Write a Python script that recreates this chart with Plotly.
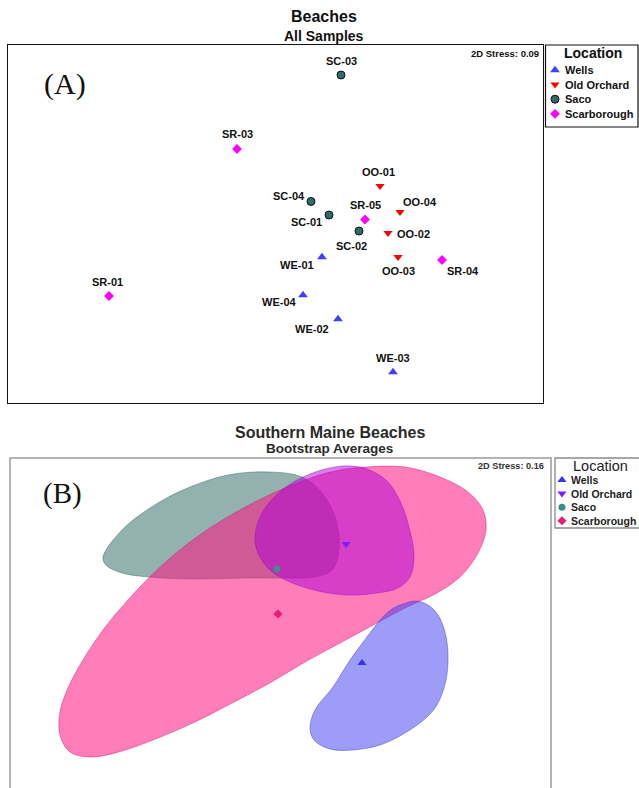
import plotly.graph_objects as go

W, H = 639, 788
SANS = "Liberation Sans, Arial, sans-serif"
SERIF = "Liberation Serif, Times New Roman, serif"

# ---------------- Panel A: NMDS ordination of individual samples ----------------
wells_ids = ["WE-01", "WE-02", "WE-03", "WE-04"]
wells_x = [0.465, 0.625, 1.175, 0.275]
wells_y = [-0.33, -0.95, -1.48, -0.71]

oo_ids = ["OO-01", "OO-02", "OO-03", "OO-04"]
oo_x = [1.045, 1.125, 1.225, 1.245]
oo_y = [0.38, -0.09, -0.33, 0.12]

saco_ids = ["SC-01", "SC-02", "SC-03", "SC-04"]
saco_x = [0.535, 0.835, 0.655, 0.355]
saco_y = [0.09, -0.07, 1.49, 0.225]

scar_ids = ["SR-01", "SR-03", "SR-04", "SR-05"]
scar_x = [-1.665, -0.385, 1.665, 0.895]
scar_y = [-0.72, 0.75, -0.36, 0.045]

stress_a = 0.09

# ---------------- Panel B: bootstrap averages with bootstrap regions ----------------
locations = ["Wells", "Old Orchard", "Saco", "Scarborough"]
avg_x = [0.82, 0.66, -0.03, -0.02]
avg_y = [-0.53, 0.66, 0.41, -0.04]

saco_region_x = [-1.77, -1.58, -1.30, -0.97, -0.52, -0.11, 0.22, 0.42, 0.56, 0.59,
                 0.52, 0.34, 0.00, -0.35, -0.80, -1.17, -1.58, -1.74]
saco_region_y = [0.53, 0.80, 1.02, 1.20, 1.35, 1.38, 1.33, 1.17, 0.90, 0.60,
                 0.40, 0.33, 0.32, 0.32, 0.31, 0.32, 0.37, 0.45]

scar_region_x = [0.87, 1.25, 1.60, 1.88, 2.03, 2.06, 1.98, 1.80, 1.55, 1.27, 0.95,
                 0.60, 0.25, -0.12, -0.48, -0.85, -1.22, -1.58, -1.88, -2.10, -2.20,
                 -2.20, -2.12, -1.97, -1.77, -1.52, -1.23, -0.90, -0.54, -0.15, 0.25, 0.55]
scar_region_y = [1.43, 1.43, 1.33, 1.18, 1.00, 0.80, 0.57, 0.33, 0.16, 0.03, -0.14,
                 -0.33, -0.52, -0.74, -0.93, -1.12, -1.28, -1.41, -1.47, -1.42, -1.25,
                 -1.02, -0.78, -0.50, -0.20, 0.10, 0.40, 0.68, 0.92, 1.13, 1.30, 1.39]

oo_region_x = [0.30, 0.63, 0.87, 1.07, 1.20, 1.29, 1.34, 1.30, 1.18, 0.97, 0.68,
               0.38, 0.10, -0.10, -0.22, -0.25, -0.18, 0.02]
oo_region_y = [1.36, 1.44, 1.41, 1.29, 1.09, 0.83, 0.54, 0.33, 0.22, 0.17, 0.15,
               0.19, 0.28, 0.40, 0.57, 0.73, 0.97, 1.20]

wells_region_x = [1.23, 1.36, 1.48, 1.58, 1.65, 1.68, 1.66, 1.58, 1.47, 1.25, 1.00,
                  0.73, 0.50, 0.34, 0.30, 0.35, 0.53, 0.70, 0.87, 1.01, 1.12]
wells_region_y = [0.06, 0.09, 0.05, -0.05, -0.22, -0.45, -0.70, -0.93, -1.07, -1.23, -1.35,
                  -1.40, -1.39, -1.30, -1.18, -1.00, -0.77, -0.50, -0.27, -0.09, 0.01]

stress_b = 0.16

# ---------------- styling ----------------
A_STYLE = {
    "Wells": dict(symbol="triangle-up", size=8.5, color="#3f3fff", line=dict(width=0)),
    "Old Orchard": dict(symbol="triangle-down", size=8, color="#ff0000", line=dict(width=0)),
    "Saco": dict(symbol="circle", size=8, color="#2f6b6b", line=dict(width=1, color="#111111")),
    "Scarborough": dict(symbol="diamond", size=7.5, color="#ff00ff", line=dict(width=0)),
}
B_STYLE = {
    "Wells": dict(symbol="triangle-up", size=8, color="#3535ee", line=dict(width=0)),
    "Old Orchard": dict(symbol="triangle-down", size=8, color="#7a1fff", line=dict(width=0)),
    "Saco": dict(symbol="circle", size=7, color="#3d8c8a", line=dict(width=0)),
    "Scarborough": dict(symbol="diamond", size=7, color="#ea1a78", line=dict(width=0)),
}

# label offsets from each sample point (pixels, right / down)
label_offset = {
    "SC-03": (0, -14), "SR-03": (0, -15), "OO-01": (-2, -14), "SC-04": (-22, -5),
    "OO-04": (20, -10), "SC-01": (-23, 7), "SR-05": (0, -14), "SC-02": (-8, 15),
    "OO-02": (25, 1), "WE-01": (-25, 8), "OO-03": (0, 14), "SR-04": (21, 11),
    "SR-01": (-2, -14), "WE-04": (-24, 7), "WE-02": (-26, 10), "WE-03": (0, -14),
}


def px(x):
    return x / W


def py(y):
    return 1 - y / H


fig = go.Figure()

# ---- panel A markers + labels ----
groups_a = [
    ("Wells", wells_ids, wells_x, wells_y),
    ("Old Orchard", oo_ids, oo_x, oo_y),
    ("Saco", saco_ids, saco_x, saco_y),
    ("Scarborough", scar_ids, scar_x, scar_y),
]
annotations = []
for name, ids, xs, ys in groups_a:
    fig.add_trace(go.Scatter(x=xs, y=ys, mode="markers", name=name,
                             marker=A_STYLE[name], xaxis="x", yaxis="y",
                             hoverinfo="text", text=ids))
    for sid, xv, yv in zip(ids, xs, ys):
        dx, dy = label_offset[sid]
        annotations.append(dict(x=xv, y=yv, xref="x", yref="y", text=sid,
                                showarrow=False, xshift=dx, yshift=-dy,
                                font=dict(family=SANS, size=11, color="#111111", weight="bold")))

# ---- panel B regions (Saco under Scarborough, then Old Orchard and Wells) ----
regions = [
    ("Saco", saco_region_x, saco_region_y, "rgba(40,100,95,0.5)", "rgba(40,100,95,0.55)"),
    ("Scarborough", scar_region_x, scar_region_y, "rgba(255,20,130,0.55)", "rgba(215,20,120,0.6)"),
    ("Old Orchard", oo_region_x, oo_region_y, "rgba(175,0,215,0.5)", "rgba(150,0,190,0.5)"),
    ("Wells", wells_region_x, wells_region_y, "rgba(60,60,240,0.5)", "rgba(50,50,200,0.55)"),
]
for name, rx, ry, fillc, linec in regions:
    fig.add_trace(go.Scatter(x=rx + rx[:1], y=ry + ry[:1], mode="lines",
                             line=dict(shape="spline", smoothing=1.0, color=linec, width=0.8),
                             fill="toself", fillcolor=fillc, xaxis="x2", yaxis="y2",
                             hoverinfo="skip"))

for i, name in enumerate(locations):
    fig.add_trace(go.Scatter(x=[avg_x[i]], y=[avg_y[i]], mode="markers", name=name,
                             marker=B_STYLE[name], xaxis="x2", yaxis="y2"))

# ---- legend keys (drawn on a full-page pixel overlay) ----
leg_a_rows = [70 + 14.6 * i for i in range(len(locations))]
leg_b_rows = [480 + 13.6 * i for i in range(len(locations))]
for i, name in enumerate(locations):
    fig.add_trace(go.Scatter(x=[555], y=[leg_a_rows[i]], mode="markers",
                             marker=A_STYLE[name], xaxis="x3", yaxis="y3", hoverinfo="skip"))
    annotations.append(dict(x=563, y=leg_a_rows[i], xref="x3", yref="y3", text=name,
                            showarrow=False, xanchor="left", yanchor="middle",
                            font=dict(family=SANS, size=11, color="#111111", weight="bold")))
    fig.add_trace(go.Scatter(x=[562], y=[leg_b_rows[i]], mode="markers",
                             marker=B_STYLE[name], xaxis="x3", yaxis="y3", hoverinfo="skip"))
    annotations.append(dict(x=569, y=leg_b_rows[i], xref="x3", yref="y3", text=name,
                            showarrow=False, xanchor="left", yanchor="middle",
                            font=dict(family=SANS, size=10.5, color="#222222", weight="bold")))

# ---- titles and text ----
def note(x, y, text, size, family=SANS, weight="bold", color="#111111", xanchor="center"):
    annotations.append(dict(x=px(x), y=py(y), xref="paper", yref="paper", text=text,
                            showarrow=False, xanchor=xanchor, yanchor="middle",
                            font=dict(family=family, size=size, color=color, weight=weight)))


note(324, 17, "Beaches", 16)
note(324, 36, "All Samples", 14)
note(65, 84, "(A)", 30, family=SERIF, weight="normal")
note(541, 53, f"2D Stress: {stress_a:.2f}", 9.5, xanchor="right")
note(593, 53, "Location", 14)

note(329.5, 432, "Southern Maine Beaches", 16, color="#2a2a2a")
note(329, 449, "Bootstrap Averages", 13.5, color="#2a2a2a")
note(63, 493, "(B)", 29, family=SERIF, weight="normal")
note(546, 466, f"2D Stress: {stress_b:.2f}", 9.2, xanchor="right", color="#333333")
note(600, 466, "Location", 14.5, weight="normal", color="#222222")

# ---- frames ----
shapes = [
    # legend A box
    dict(type="rect", xref="paper", yref="paper", x0=px(545.5), x1=px(638), y0=py(127), y1=py(45),
         line=dict(color="#111111", width=1.2)),
    # panel B frame (open at the bottom of the page)
    dict(type="path", xref="paper", yref="paper",
         path=f"M {px(10)},{py(800)} L {px(10)},{py(458)} L {px(551)},{py(458)} L {px(551)},{py(800)}",
         line=dict(color="#9a9a9a", width=1.5)),
    # legend B box
    dict(type="path", xref="paper", yref="paper",
         path=f"M {px(650)},{py(528)} L {px(555)},{py(528)} L {px(555)},{py(458)} L {px(650)},{py(458)}",
         line=dict(color="#8a8a8a", width=1.3)),
]

hidden = dict(showgrid=False, zeroline=False, showticklabels=False, ticks="", fixedrange=True)

fig.update_layout(
    width=W, height=H, margin=dict(l=0, r=0, t=0, b=0),
    paper_bgcolor="white", plot_bgcolor="rgba(0,0,0,0)", showlegend=False,
    xaxis=dict(domain=[px(8), px(543)], range=[-2.675, 2.675], anchor="y",
               showline=True, mirror=True, linecolor="#111111", linewidth=1.2, **hidden),
    yaxis=dict(domain=[py(403), py(45)], range=[-1.79, 1.79], anchor="x",
               showline=True, mirror=True, linecolor="#111111", linewidth=1.2, **hidden),
    xaxis2=dict(domain=[px(10), px(551)], range=[-2.70, 2.71], anchor="y2", **hidden),
    yaxis2=dict(domain=[0, py(458)], range=[-1.78, 1.52], anchor="x2", **hidden),
    xaxis3=dict(domain=[0, 1], range=[0, W], anchor="y3", visible=False, fixedrange=True),
    yaxis3=dict(domain=[0, 1], range=[H, 0], anchor="x3", visible=False, fixedrange=True),
    annotations=annotations,
    shapes=shapes,
)

fig.write_html("out.html")
